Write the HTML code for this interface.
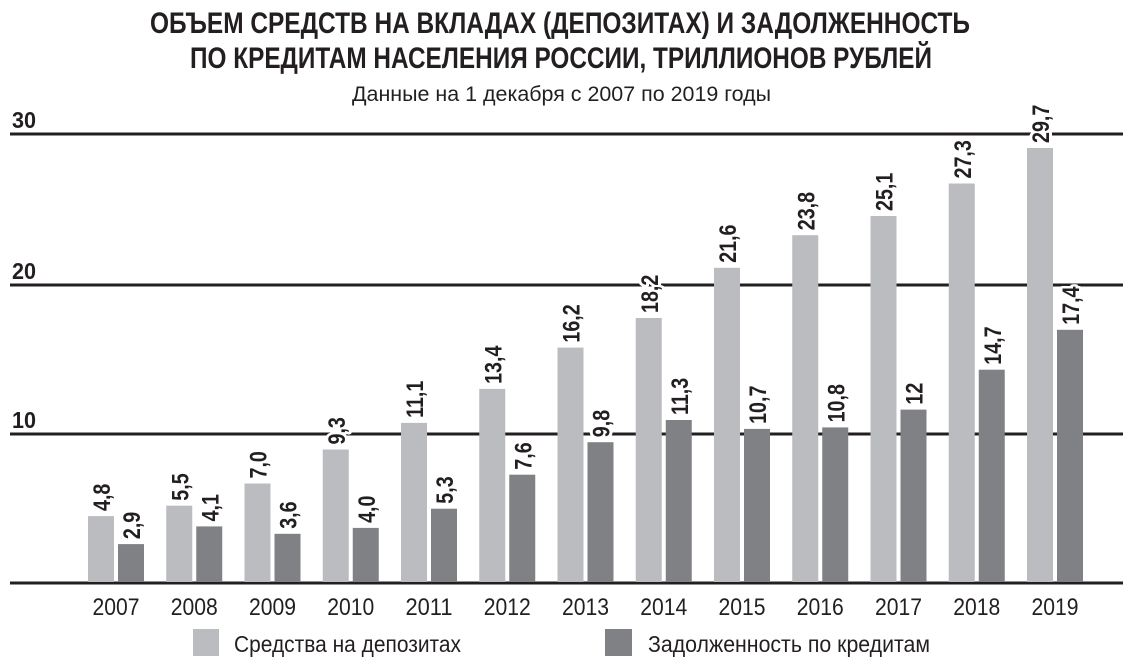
<!DOCTYPE html>
<html><head><meta charset="utf-8"><style>
html,body{margin:0;padding:0;background:#fff;}
svg{display:block;}
text{font-family:"Liberation Sans Narrow","Liberation Sans",sans-serif;fill:#231f20;}
.t{font-weight:bold;font-size:30px;}
.v{font-weight:bold;font-size:24px;stroke:#fff;stroke-width:6px;paint-order:stroke;stroke-linejoin:round;}
.y{font-size:24px;}
.ax{font-weight:bold;font-size:23px;}
.L{fill:#bbbcbf;}.D{fill:#808184;}
</style></head><body>
<svg width="1135" height="667" viewBox="0 0 1135 667" xmlns="http://www.w3.org/2000/svg">
<text class="t" x="150" y="33" textLength="820" lengthAdjust="spacingAndGlyphs">ОБЪЕМ СРЕДСТВ НА ВКЛАДАХ (ДЕПОЗИТАХ) И ЗАДОЛЖЕННОСТЬ</text>
<text class="t" x="190" y="68" textLength="742" lengthAdjust="spacingAndGlyphs">ПО КРЕДИТАМ НАСЕЛЕНИЯ РОССИИ, ТРИЛЛИОНОВ РУБЛЕЙ</text>
<text x="352" y="101" font-size="21" textLength="419" lengthAdjust="spacingAndGlyphs">Данные на 1 декабря с 2007 по 2019 годы</text>

<g stroke="#231f20" stroke-width="3">
<line x1="10" y1="134" x2="1123" y2="134"/>
<line x1="10" y1="285" x2="1123" y2="285"/>
<line x1="10" y1="434" x2="1123" y2="434"/>
<line x1="10" y1="583" x2="1123" y2="583"/>
</g>
<text class="ax" x="12" y="128" textLength="24" lengthAdjust="spacingAndGlyphs">30</text>
<text class="ax" x="12" y="279" textLength="24" lengthAdjust="spacingAndGlyphs">20</text>
<text class="ax" x="12" y="428" textLength="24" lengthAdjust="spacingAndGlyphs">10</text>

<g>
<rect class="L" x="88" y="516.1" width="26" height="65.9"/>
<rect class="L" x="166.25" y="505.7" width="26" height="76.3"/>
<rect class="L" x="244.5" y="483.5" width="26" height="98.5"/>
<rect class="L" x="322.75" y="449.5" width="26" height="132.5"/>
<rect class="L" x="401" y="422.9" width="26" height="159.1"/>
<rect class="L" x="479.25" y="388.9" width="26" height="193.1"/>
<rect class="L" x="557.5" y="347.6" width="26" height="234.4"/>
<rect class="L" x="635.75" y="318" width="26" height="264"/>
<rect class="L" x="714" y="267.8" width="26" height="314.2"/>
<rect class="L" x="792.25" y="235.2" width="26" height="346.8"/>
<rect class="L" x="870.5" y="216" width="26" height="366"/>
<rect class="L" x="948.75" y="183.5" width="26" height="398.5"/>
<rect class="L" x="1027" y="148" width="26" height="434"/>
</g>
<g>
<rect class="D" x="118" y="544.1" width="26" height="37.9"/>
<rect class="D" x="196.25" y="526.4" width="26" height="55.6"/>
<rect class="D" x="274.5" y="533.8" width="26" height="48.2"/>
<rect class="D" x="352.75" y="527.9" width="26" height="54.1"/>
<rect class="D" x="431" y="508.7" width="26" height="73.3"/>
<rect class="D" x="509.25" y="474.7" width="26" height="107.3"/>
<rect class="D" x="587.5" y="442.2" width="26" height="139.8"/>
<rect class="D" x="665.75" y="420" width="26" height="162"/>
<rect class="D" x="744" y="428.9" width="26" height="153.1"/>
<rect class="D" x="822.25" y="427.4" width="26" height="154.6"/>
<rect class="D" x="900.5" y="409.6" width="26" height="172.4"/>
<rect class="D" x="978.75" y="369.7" width="26" height="212.3"/>
<rect class="D" x="1057" y="329.8" width="26" height="252.2"/>
</g>

<g>
<text class="v" transform="translate(110,511) rotate(-90) scale(0.82,1)">4,8</text>
<text class="v" transform="translate(188.25,500.7) rotate(-90) scale(0.82,1)">5,5</text>
<text class="v" transform="translate(266.5,478.5) rotate(-90) scale(0.82,1)">7,0</text>
<text class="v" transform="translate(344.75,444.5) rotate(-90) scale(0.82,1)">9,3</text>
<text class="v" transform="translate(423,417.9) rotate(-90) scale(0.82,1)">11,1</text>
<text class="v" transform="translate(501.25,383.9) rotate(-90) scale(0.82,1)">13,4</text>
<text class="v" transform="translate(579.5,342.6) rotate(-90) scale(0.82,1)">16,2</text>
<text class="v" transform="translate(657.75,313) rotate(-90) scale(0.82,1)">18,2</text>
<text class="v" transform="translate(736,262.8) rotate(-90) scale(0.82,1)">21,6</text>
<text class="v" transform="translate(814.25,230.2) rotate(-90) scale(0.82,1)">23,8</text>
<text class="v" transform="translate(892.5,211) rotate(-90) scale(0.82,1)">25,1</text>
<text class="v" transform="translate(970.75,178.5) rotate(-90) scale(0.82,1)">27,3</text>
<text class="v" transform="translate(1049,143) rotate(-90) scale(0.82,1)">29,7</text>

<text class="v" transform="translate(140,539.1) rotate(-90) scale(0.82,1)">2,9</text>
<text class="v" transform="translate(218.25,521.4) rotate(-90) scale(0.82,1)">4,1</text>
<text class="v" transform="translate(296.5,528.8) rotate(-90) scale(0.82,1)">3,6</text>
<text class="v" transform="translate(374.75,522.9) rotate(-90) scale(0.82,1)">4,0</text>
<text class="v" transform="translate(453,503.7) rotate(-90) scale(0.82,1)">5,3</text>
<text class="v" transform="translate(531.25,469.7) rotate(-90) scale(0.82,1)">7,6</text>
<text class="v" transform="translate(609.5,437.2) rotate(-90) scale(0.82,1)">9,8</text>
<text class="v" transform="translate(687.75,415) rotate(-90) scale(0.82,1)">11,3</text>
<text class="v" transform="translate(766,423.9) rotate(-90) scale(0.82,1)">10,7</text>
<text class="v" transform="translate(844.25,422.4) rotate(-90) scale(0.82,1)">10,8</text>
<text class="v" transform="translate(922.5,404.6) rotate(-90) scale(0.82,1)">12</text>
<text class="v" transform="translate(1000.75,364.7) rotate(-90) scale(0.82,1)">14,7</text>
<text class="v" transform="translate(1079,324.8) rotate(-90) scale(0.82,1)">17,4</text>
</g>

<g>
<text class="y" x="92.5" y="615" textLength="47" lengthAdjust="spacingAndGlyphs">2007</text>
<text class="y" x="170.75" y="615" textLength="47" lengthAdjust="spacingAndGlyphs">2008</text>
<text class="y" x="249" y="615" textLength="47" lengthAdjust="spacingAndGlyphs">2009</text>
<text class="y" x="327.25" y="615" textLength="47" lengthAdjust="spacingAndGlyphs">2010</text>
<text class="y" x="405.5" y="615" textLength="47" lengthAdjust="spacingAndGlyphs">2011</text>
<text class="y" x="483.75" y="615" textLength="47" lengthAdjust="spacingAndGlyphs">2012</text>
<text class="y" x="562" y="615" textLength="47" lengthAdjust="spacingAndGlyphs">2013</text>
<text class="y" x="640.25" y="615" textLength="47" lengthAdjust="spacingAndGlyphs">2014</text>
<text class="y" x="718.5" y="615" textLength="47" lengthAdjust="spacingAndGlyphs">2015</text>
<text class="y" x="796.75" y="615" textLength="47" lengthAdjust="spacingAndGlyphs">2016</text>
<text class="y" x="875" y="615" textLength="47" lengthAdjust="spacingAndGlyphs">2017</text>
<text class="y" x="953.25" y="615" textLength="47" lengthAdjust="spacingAndGlyphs">2018</text>
<text class="y" x="1031.5" y="615" textLength="47" lengthAdjust="spacingAndGlyphs">2019</text>
</g>

<rect class="L" x="193" y="629" width="26" height="27"/>
<text x="234" y="652" font-size="23" textLength="227" lengthAdjust="spacingAndGlyphs">Средства на депозитах</text>
<rect class="D" x="605" y="629" width="27" height="27"/>
<text x="648" y="652" font-size="23" textLength="282" lengthAdjust="spacingAndGlyphs">Задолженность по кредитам</text>
</svg>
</body></html>
